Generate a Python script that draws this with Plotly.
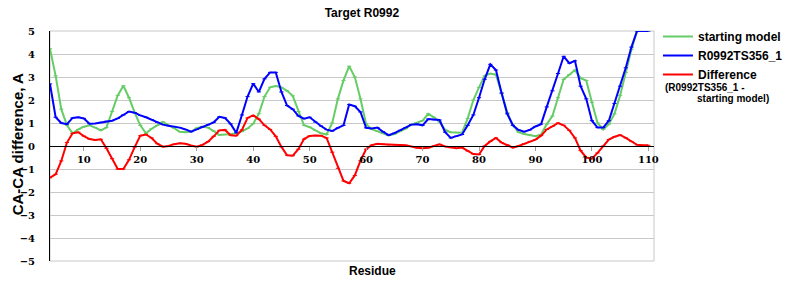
import plotly.graph_objects as go

residues = list(range(4, 111))

starting_model = [
    4.23, 3.05, 1.6, 0.9, 0.55, 0.72, 0.84, 0.9, 0.8, 0.68,
    0.8, 1.5, 2.2, 2.62, 2.1, 1.45, 0.9, 0.55, 0.75, 0.9,
    1.05, 0.9, 0.78, 0.62, 0.6, 0.63, 0.78, 0.85, 0.8, 0.65,
    0.48, 0.5, 0.51, 0.56, 0.64, 0.76, 0.97, 1.4, 2.15, 2.55,
    2.61, 2.55, 2.4, 2.18, 1.5, 0.9, 0.82, 0.67, 0.55, 0.5,
    1.0, 2.05, 2.85, 3.47, 3.0, 2.05, 0.95, 0.73, 0.64, 0.55,
    0.46, 0.52, 0.65, 0.75, 0.93, 1.0, 1.1, 1.4, 1.25, 1.05,
    0.7, 0.6, 0.58, 0.58, 1.2, 2.0, 2.55, 3.05, 3.15, 3.1,
    2.3, 1.45, 0.9, 0.6, 0.52, 0.48, 0.43, 0.5, 0.95, 1.3,
    2.1, 2.9, 3.1, 3.3, 2.95, 2.85, 1.9, 1.0, 0.72, 0.95,
    1.4, 2.2, 3.2, 4.2, 5.0, 5.0, 5.0,
]

model_ts356 = [
    2.7, 1.25, 1.0, 0.95, 1.22, 1.25, 1.2, 0.97, 0.98, 1.03,
    1.08, 1.1, 1.2, 1.35, 1.5, 1.45, 1.33, 1.25, 1.15, 1.03,
    0.93, 0.88, 0.85, 0.8, 0.72, 0.62, 0.72, 0.83, 0.92, 1.03,
    1.27, 1.22, 0.96, 0.57, 1.35, 2.15, 2.71, 2.35, 2.92, 3.2,
    3.2, 2.35, 1.76, 1.6, 1.31, 1.19, 1.25, 1.04, 0.87, 0.71,
    0.65, 0.79, 0.9, 1.8, 1.73, 1.48, 0.79, 0.76, 0.8, 0.62,
    0.47, 0.56, 0.68, 0.8, 0.93, 0.95, 0.9, 1.17, 1.14, 1.13,
    0.6, 0.35, 0.43, 0.5, 0.9, 1.35, 2.1, 2.9, 3.55, 3.3,
    2.3, 1.4, 0.9, 0.7, 0.62, 0.7, 0.85, 0.95, 1.7, 2.4,
    3.15, 3.9, 3.6, 3.7, 2.6, 2.05, 1.1, 0.8, 0.8, 1.1,
    1.85, 2.6, 3.4, 4.3, 5.0, 5.0, 5.0,
]

difference = [
    -1.38, -1.23, -0.65, 0.15, 0.55, 0.6, 0.43, 0.3, 0.26, 0.29,
    -0.1, -0.55, -1.0, -1.0, -0.6, -0.05, 0.45, 0.5, 0.35, 0.1,
    -0.03, 0.0, 0.08, 0.12, 0.1, 0.02, -0.03, 0.05, 0.19, 0.42,
    0.68, 0.7, 0.47, 0.45, 0.7, 1.22, 1.33, 1.17, 0.9, 0.72,
    0.42, -0.04, -0.4, -0.42, -0.14, 0.3, 0.44, 0.46, 0.45, 0.35,
    -0.27, -0.97, -1.52, -1.62, -1.28, -0.64, -0.14, 0.04, 0.1, 0.08,
    0.05, 0.05, 0.04, 0.03, -0.02, -0.08, -0.1, -0.08, 0.0, 0.07,
    -0.02, -0.07, -0.1, -0.07, -0.22, -0.35, -0.37, 0.0, 0.2, 0.35,
    0.15, 0.05, -0.07, 0.0, 0.1, 0.2, 0.28, 0.45, 0.72, 0.85,
    1.0, 0.9, 0.68, 0.35, -0.2, -0.5, -0.55, -0.3, 0.0, 0.28,
    0.4, 0.48, 0.35, 0.2, 0.05, 0.03, 0.03,
]

x_ticks = [10, 20, 30, 40, 50, 60, 70, 80, 90, 100, 110]
y_ticks = [-5, -4, -3, -2, -1, 0, 1, 2, 3, 4, 5]

series = [
    ("starting model", starting_model, "#66CC66"),
    ("R0992TS356_1", model_ts356, "#0000FF"),
    ("Difference", difference, "#FF0000"),
]

fig = go.Figure()
for name, vals, color in series:
    fig.add_trace(go.Scatter(
        x=residues, y=vals, name=name, mode="lines+markers",
        line=dict(color=color, width=2),
        marker=dict(symbol="line-ew-open", size=3, color=color,
                    line=dict(color=color, width=1)),
    ))

L, R, T, B = 50, 140, 31, 39
W, H = 800, 300
pw, ph = W - L - R, H - T - B


def px(x):
    return (x - L) / pw


def py(y):
    return (H - B - y) / ph


tick_font = dict(family="DejaVu Serif", size=10, color="black", weight="bold")

fig.update_layout(
    width=W, height=H,
    margin=dict(l=L, r=R, t=T, b=B),
    paper_bgcolor="white", plot_bgcolor="white",
    showlegend=True,
    legend=dict(
        x=px(664), y=py(22), xanchor="left", yanchor="top",
        font=dict(family="Liberation Sans", size=12, color="black", weight="bold"),
        bgcolor="rgba(0,0,0,0)", tracegroupgap=0, itemwidth=30,
    ),
    title=dict(
        text="Target R0992", x=px(365), xanchor="center", y=1 - 13 / H, yanchor="middle",
        xref="paper", yref="container",
        font=dict(family="Liberation Sans", size=12, color="black", weight="bold"),
    ),
    xaxis=dict(
        range=[4, 111], tickvals=x_ticks, ticktext=[str(v) for v in x_ticks],
        anchor="free", position=0.5, showline=True, linecolor="black", linewidth=1,
        ticks="outside", ticklen=4, tickcolor="#A0A0A0", showgrid=False, zeroline=False,
        tickfont=tick_font,
    ),
    yaxis=dict(
        range=[-5, 5], tickvals=y_ticks,
        showline=True, linecolor="black", linewidth=1, ticks="",
        showgrid=True, gridcolor="#C8C8C8", gridwidth=1, zeroline=False,
        tickfont=tick_font, ticklabelstandoff=12,
    ),
    shapes=[
        dict(type="rect", xref="paper", yref="paper", x0=0, x1=1, y0=0, y1=1,
             line=dict(color="#C8C8C8", width=1), fillcolor="rgba(0,0,0,0)", layer="below"),
    ],
    annotations=[
        dict(text="CA-CA difference, A", xref="paper", yref="paper",
             x=px(17), y=py(144), textangle=-90, showarrow=False,
             xanchor="center", yanchor="middle",
             font=dict(family="Liberation Sans", size=15, color="black", weight="bold")),
        dict(text="Residue", xref="paper", yref="paper",
             x=px(376), y=py(271), showarrow=False,
             xanchor="center", yanchor="middle",
             font=dict(family="Liberation Sans", size=12, color="black", weight="bold")),
        dict(text="(R0992TS356_1 -", xref="paper", yref="paper",
             x=px(669), y=py(87), showarrow=False,
             xanchor="left", yanchor="middle",
             font=dict(family="Liberation Sans", size=10, color="black", weight="bold")),
        dict(text="starting model)", xref="paper", yref="paper",
             x=px(701), y=py(99), showarrow=False,
             xanchor="left", yanchor="middle",
             font=dict(family="Liberation Sans", size=10, color="black", weight="bold")),
    ],
)

fig.write_html("out.html")
